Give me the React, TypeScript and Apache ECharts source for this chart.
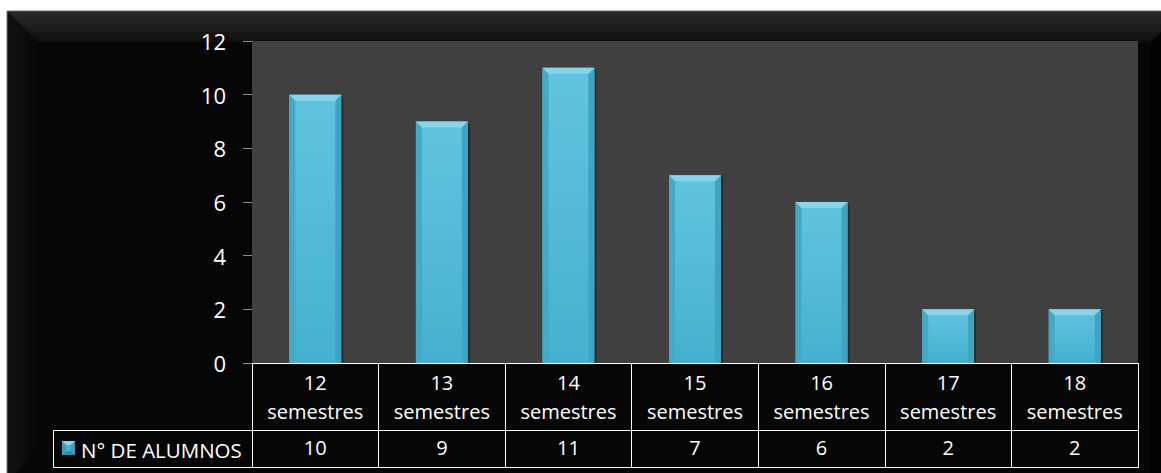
import React, { useEffect, useRef } from "react";
import * as echarts from "echarts";

const categories = ["12 semestres", "13 semestres", "14 semestres", "15 semestres", "16 semestres", "17 semestres", "18 semestres"];
const values = [10, 9, 11, 7, 6, 2, 2];
const seriesName = "N° DE ALUMNOS";
const yTicks = { min: 0, max: 12, interval: 2 };

const W = 1161;
const H = 473;
const G = { left: 252, right: 1138, top: 41, bottom: 363 };
const ROW1 = 67;
const ROW2 = 37;
const LEG_LEFT = 53;
const FONT = "'Open Sans', 'Noto Sans', sans-serif";

function barBody() {
  return new echarts.graphic.LinearGradient(0, 0, 0, 1, [
    { offset: 0, color: "#62c4de" },
    { offset: 1, color: "#45b1cf" },
  ]);
}

export default function App() {
  const ref = useRef<HTMLDivElement>(null);
  useEffect(() => {
    document.body.style.margin = "0";
    const chart = echarts.init(ref.current!, null, { renderer: "svg" });
    const option: any = {
      animation: false,
      backgroundColor: "#ffffff",
      textStyle: { fontFamily: FONT },
      grid: {
        left: G.left,
        right: W - G.right,
        top: G.top,
        bottom: H - G.bottom,
        show: true,
        backgroundColor: "#404040",
        borderWidth: 0,
        z: 1,
      },
      graphic: [
        {
          type: "rect",
          z: -10,
          silent: true,
          shape: { x: 7, y: 11, width: W + 40, height: H + 40 },
          style: { fill: "#060606", stroke: "#7a7a7a", lineWidth: 1 },
        },
        {
          type: "polygon",
          z: -9,
          silent: true,
          shape: { points: [[8, 12], [W + 20, 12], [W - 10, 42], [38, 42]] },
          style: {
            fill: new echarts.graphic.LinearGradient(0, 0, 0, 1, [
              { offset: 0, color: "#2a2a2a" },
              { offset: 1, color: "#0e0e0e" },
            ]),
          },
        },
        {
          type: "polygon",
          z: -9,
          silent: true,
          shape: { points: [[8, 12], [38, 42], [38, H - 30], [8, H + 10]] },
          style: {
            fill: new echarts.graphic.LinearGradient(0, 0, 1, 0, [
              { offset: 0, color: "#111111" },
              { offset: 1, color: "#080808" },
            ]),
          },
        },
        {
          type: "polygon",
          z: -9,
          silent: true,
          shape: { points: [[W + 20, 12], [W - 10, 42], [W - 10, H], [W + 20, H]] },
          style: { fill: "#020202" },
        },
        {
          type: "rect",
          z: 20,
          silent: true,
          shape: { x: G.left + 0.5, y: G.bottom + 0.5, width: G.right - G.left, height: ROW1 + ROW2 },
          style: { fill: "none", stroke: "#ffffff", lineWidth: 1 },
        },
        {
          type: "rect",
          z: 20,
          silent: true,
          shape: { x: LEG_LEFT + 0.5, y: G.bottom + ROW1 + 0.5, width: G.right - LEG_LEFT, height: ROW2 },
          style: { fill: "none", stroke: "#ffffff", lineWidth: 1 },
        },
        {
          type: "group",
          z: 21,
          silent: true,
          x: 62,
          y: G.bottom + ROW1 + 11,
          children: [
            { type: "rect", shape: { x: 0, y: 0, width: 13, height: 14 }, style: { fill: "#4ab3d0" } },
            { type: "polygon", shape: { points: [[0, 0], [13, 0], [9, 4], [4, 4]] }, style: { fill: "#8ad6ea" } },
            { type: "polygon", shape: { points: [[0, 0], [4, 4], [4, 10], [0, 14]] }, style: { fill: "#3a9fbe" } },
            { type: "polygon", shape: { points: [[13, 0], [9, 4], [9, 10], [13, 14]] }, style: { fill: "#3a9fbe" } },
            { type: "polygon", shape: { points: [[0, 14], [4, 10], [9, 10], [13, 14]] }, style: { fill: "#2f90b0" } },
          ],
        },
        {
          type: "text",
          z: 21,
          silent: true,
          x: 81,
          y: G.bottom + ROW1 + ROW2 / 2 + 1,
          style: {
            text: seriesName,
            fill: "#ffffff",
            font: `20.5px ${FONT}`,
            verticalAlign: "middle",
            textAlign: "left",
          },
        },
      ],
      xAxis: [
        {
          type: "category",
          data: categories,
          position: "bottom",
          axisLine: { show: true, lineStyle: { color: "#ffffff", width: 1 } },
          axisTick: { show: true, length: ROW1, lineStyle: { color: "#ffffff", width: 1 } },
          axisLabel: {
            color: "#ffffff",
            fontSize: 20,
            lineHeight: 29,
            margin: 5,
            fontFamily: FONT,
            formatter: (v: string) => v.replace(" ", "\n"),
          },
          z: 10,
        },
        {
          type: "category",
          data: values.map(String),
          position: "bottom",
          offset: ROW1,
          axisLine: { show: false },
          axisTick: { show: true, length: ROW2, lineStyle: { color: "#ffffff", width: 1 } },
          axisLabel: { color: "#ffffff", fontSize: 20, margin: 7, fontFamily: FONT },
          z: 10,
        },
      ],
      yAxis: {
        type: "value",
        min: yTicks.min,
        max: yTicks.max,
        interval: yTicks.interval,
        axisLine: { show: true, lineStyle: { color: "#8c8c8c", width: 1 } },
        axisTick: { show: true, length: 9, lineStyle: { color: "#8c8c8c", width: 1 } },
        splitLine: { show: true, lineStyle: { color: "#8c8c8c", width: 1 } },
        axisLabel: { color: "#ffffff", fontSize: 22, margin: 26, fontFamily: FONT },
      },
      series: [
        {
          name: seriesName,
          type: "custom",
          xAxisIndex: 0,
          z: 5,
          data: values.map((v, i) => [i, v]),
          renderItem: (params: any, api: any) => {
            const idx = api.value(0);
            const val = api.value(1);
            const top = api.coord([idx, val]);
            const base = api.coord([idx, 0]);
            const bw = api.size([1, 0])[0] * 0.41;
            const x0 = top[0] - bw / 2;
            const x1 = top[0] + bw / 2;
            const y0 = top[1];
            const y1 = base[1];
            const b = 6;
            return {
              type: "group",
              children: [
                {
                  type: "rect",
                  shape: { x: x0 + 2, y: y0 + 2, width: bw, height: y1 - y0 - 2 },
                  style: { fill: "rgba(0,0,0,0.35)" },
                },
                {
                  type: "rect",
                  shape: { x: x0, y: y0, width: bw, height: y1 - y0 },
                  style: { fill: barBody() },
                },
                {
                  type: "polygon",
                  shape: { points: [[x0, y0], [x0 + b, y0 + b], [x0 + b, y1 - 2], [x0, y1]] },
                  style: { fill: "#44a9c7" },
                },
                {
                  type: "polygon",
                  shape: { points: [[x1, y0], [x1 - b, y0 + b], [x1 - b, y1 - 2], [x1, y1]] },
                  style: { fill: "#3fa3c2" },
                },
                {
                  type: "polygon",
                  shape: { points: [[x0, y0], [x1, y0], [x1 - b, y0 + b], [x0 + b, y0 + b]] },
                  style: { fill: "#88d4e8" },
                },
              ],
            };
          },
        },
      ],
    };
    chart.setOption(option);
    return () => chart.dispose();
  }, []);
  return <div ref={ref} style={{ width: W, height: H }} />;
}
